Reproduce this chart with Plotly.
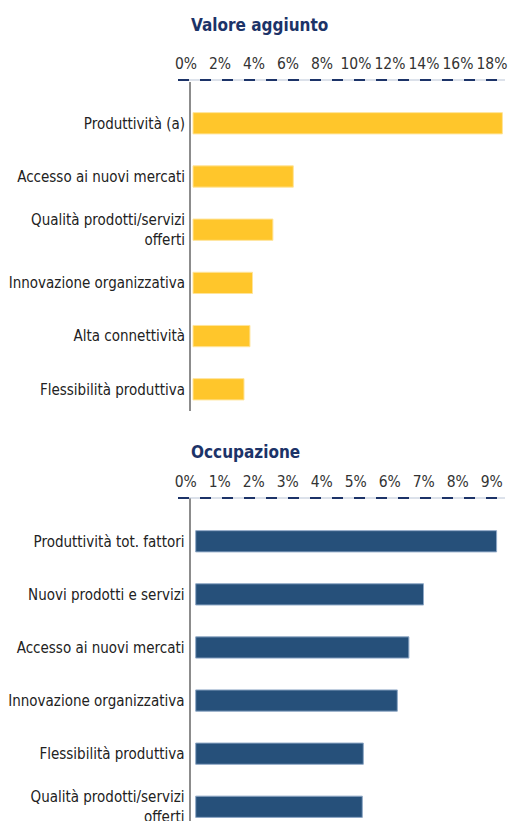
import plotly.graph_objects as go

# Valore aggiunto
va_categories = ["Produttività (a)", "Accesso ai nuovi mercati",
                 "Qualità prodotti/servizi<br>offerti", "Innovazione organizzativa",
                 "Alta connettività", "Flessibilità produttiva"]
va_values = [18.2, 5.9, 4.7, 3.5, 3.35, 3.0]
va_ticks = [0, 2, 4, 6, 8, 10, 12, 14, 16, 18]

# Occupazione
occ_categories = ["Produttività tot. fattori", "Nuovi prodotti e servizi",
                  "Accesso ai nuovi mercati", "Innovazione organizzativa",
                  "Flessibilità produttiva", "Qualità prodotti/servizi<br>offerti"]
occ_values = [8.85, 6.7, 6.27, 5.93, 4.93, 4.9]
occ_ticks = [0, 1, 2, 3, 4, 5, 6, 7, 8, 9]

W, H = 512, 821
FONT = "DejaVu Sans Condensed, Liberation Sans Narrow, Arial Narrow, sans-serif"
NAVY = "#1c3368"


def px_x(p):
    return p / W


def px_y(p):
    return 1 - p / H


fig = go.Figure()
fig.add_trace(go.Bar(
    x=va_values, y=va_categories, orientation="h",
    marker=dict(color="#FFC62B", line=dict(color="#FFE49A", width=1)),
    xaxis="x", yaxis="y", hoverinfo="x+y",
))
fig.add_trace(go.Bar(
    x=occ_values, y=occ_categories, orientation="h",
    marker=dict(color="#26507A", line=dict(color="#8FA8C6", width=1)),
    xaxis="x2", yaxis="y2", hoverinfo="x+y",
))

tick_font = dict(family=FONT, size=15.5, color="#333333")
cat_font = dict(family=FONT, size=15, color="#222222")

fig.update_layout(
    width=W, height=H,
    margin=dict(l=0, r=0, t=0, b=0, autoexpand=False),
    paper_bgcolor="white", plot_bgcolor="white",
    showlegend=False, bargap=0.6,
    xaxis=dict(
        domain=[px_x(191), px_x(505)], anchor="y", side="top",
        range=[-2 / 17, (505 - 193) / 17],
        tickmode="array", tickvals=va_ticks,
        ticktext=[f"{v}%" for v in va_ticks], tickangle=0,
        tickfont=tick_font, ticklabelshift=-7, ticklabelstandoff=9,
        showgrid=False, zeroline=False, showline=False, ticks="",
        automargin=False,
    ),
    yaxis=dict(
        domain=[px_y(411), px_y(82)], anchor="x",
        type="category", categoryorder="array", categoryarray=va_categories,
        range=[5.408, -0.776],
        tickfont=cat_font, ticklabelstandoff=1,
        showgrid=False, zeroline=False, showline=True,
        linecolor="#8c8c8c", linewidth=2, ticks="", automargin=False,
    ),
    xaxis2=dict(
        domain=[px_x(190.5), px_x(505)], anchor="y2", side="top",
        range=[-5.2 / 34, (505 - 195.7) / 34],
        tickmode="array", tickvals=occ_ticks,
        ticktext=[f"{v}%" for v in occ_ticks], tickangle=0,
        tickfont=tick_font, ticklabelshift=-10, ticklabelstandoff=7,
        showgrid=False, zeroline=False, showline=False, ticks="",
        automargin=False,
    ),
    yaxis2=dict(
        domain=[0, px_y(498)], anchor="x2",
        type="category", categoryorder="array", categoryarray=occ_categories,
        range=[5.268, -0.815],
        tickfont=cat_font, ticklabelstandoff=1,
        showgrid=False, zeroline=False, showline=True,
        linecolor="#8c8c8c", linewidth=2, ticks="", automargin=False,
    ),
)

# Dashed rule under each percentage scale
for y_px in (80, 498):
    fig.add_shape(type="line", xref="paper", yref="paper",
                  x0=px_x(178), x1=px_x(505), y0=px_y(y_px), y1=px_y(y_px),
                  line=dict(color="#b9c4d6", width=1))
    fig.add_shape(type="line", xref="paper", yref="paper",
                  x0=px_x(178), x1=px_x(505), y0=px_y(y_px), y1=px_y(y_px),
                  line=dict(color=NAVY, width=2, dash="11px,11px"))

# Panel titles
for text, y_px in (("Valore aggiunto", 25), ("Occupazione", 452)):
    fig.add_annotation(text=text, xref="paper", yref="paper",
                       x=px_x(189), y=px_y(y_px), xanchor="left", yanchor="middle",
                       showarrow=False,
                       font=dict(family=FONT, size=17, color=NAVY, weight="bold"))

fig.write_html("out.html")
